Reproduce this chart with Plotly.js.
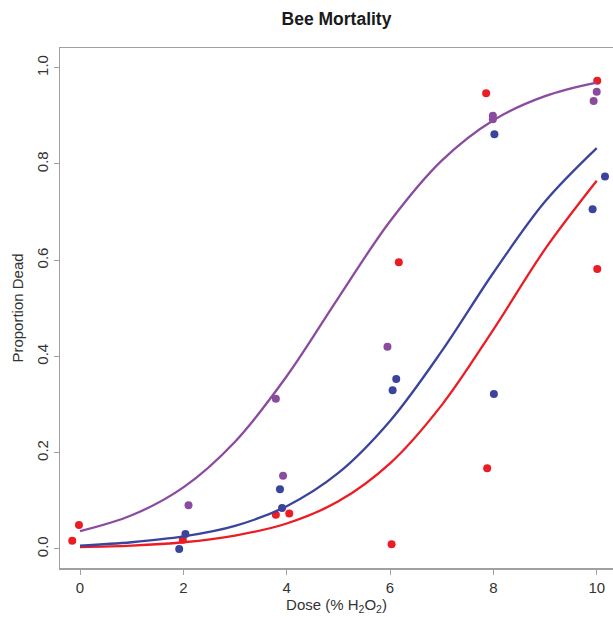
<!DOCTYPE html>
<html>
<head>
<meta charset="utf-8">
<script src="https://cdn.plot.ly/plotly-3.0.1.min.js"></script>
<style>html,body{margin:0;padding:0;background:#fff;}#chart{width:613px;height:617px;}</style>
</head>
<body>
<div id="chart"></div>
<script>
// Observed points (jittered dose, proportion dead)
const redDose  = [-0.15, -0.02, 1.99, 3.79, 4.05, 6.03, 6.17, 7.88, 7.86, 10.01, 10.01];
const redProp  = [0.017, 0.050, 0.019, 0.071, 0.074, 0.010, 0.596, 0.168, 0.947, 0.973, 0.582];
const blueDose = [1.92, 2.04, 3.87, 3.91, 6.12, 6.05, 8.01, 8.02, 10.16, 9.92];
const blueProp = [0.000, 0.031, 0.124, 0.085, 0.353, 0.330, 0.322, 0.862, 0.774, 0.706];
const purpDose = [2.10, 3.93, 3.79, 5.95, 7.99, 7.99, 10.00, 9.94];
const purpProp = [0.091, 0.152, 0.312, 0.420, 0.900, 0.893, 0.950, 0.931];

// Fitted curves at each dose
const curveDose = [0, 1, 2, 3, 4, 5, 6, 7, 8, 9, 10];
const redCurve  = [0.004, 0.007, 0.014, 0.028, 0.053, 0.099, 0.178, 0.299, 0.456, 0.623, 0.765];
const blueCurve = [0.007, 0.014, 0.026, 0.048, 0.089, 0.158, 0.266, 0.411, 0.574, 0.722, 0.833];
const purpCurve = [0.037, 0.070, 0.128, 0.223, 0.359, 0.522, 0.681, 0.807, 0.891, 0.941, 0.969];

const xTicks = [0, 2, 4, 6, 8, 10];
const yTicks = [0.0, 0.2, 0.4, 0.6, 0.8, 1.0];
const yTickText = ["0.0", "0.2", "0.4", "0.6", "0.8", "1.0"];

const RED = '#ec1c24', BLUE = '#3a449c', PURP = '#8a4c9e';

function pts(x, y, c) {
  return {x: x, y: y, type: 'scatter', mode: 'markers', hoverinfo: 'skip',
          marker: {color: c, size: 8, line: {width: 0}}};
}
function crv(y, c) {
  return {x: curveDose, y: y, type: 'scatter', mode: 'lines', hoverinfo: 'skip',
          line: {color: c, width: 2.3, shape: 'spline', smoothing: 1}};
}

const data = [
  pts(redDose, redProp, RED), pts(blueDose, blueProp, BLUE), pts(purpDose, purpProp, PURP),
  crv(redCurve, RED), crv(blueCurve, BLUE), crv(purpCurve, PURP)
];

const tickFont = {family: 'Liberation Sans, Arial, sans-serif', size: 15, color: '#333'};
const layout = {
  width: 613, height: 617,
  margin: {l: 60, r: 0, t: 48, b: 49, pad: 0},
  paper_bgcolor: '#fff', plot_bgcolor: '#fff',
  showlegend: false,
  title: {text: '<b>Bee Mortality</b>', x: 0.5, xanchor: 'center', y: 0.969, yanchor: 'middle',
          yref: 'container', xref: 'paper',
          font: {family: 'Liberation Sans, Arial, sans-serif', size: 17.5, color: '#1a1a1a'}},
  xaxis: {
    range: [-0.387, 10.315], tickvals: xTicks, ticktext: xTicks.map(String),
    showgrid: false, zeroline: false, showline: true, mirror: true,
    linecolor: '#a0a0a0', linewidth: 1.5, ticks: 'outside', ticklen: 5, tickcolor: '#a0a0a0', tickwidth: 1,
    tickfont: tickFont,
    title: {text: 'Dose (% H<sub>2</sub>O<sub>2</sub>)', standoff: 4,
            font: {family: 'Liberation Sans, Arial, sans-serif', size: 15, color: '#333'}}
  },
  yaxis: {
    range: [-0.0395, 1.041], tickvals: yTicks, ticktext: yTickText, tickangle: -90,
    showgrid: false, zeroline: false, showline: true, mirror: false,
    linecolor: '#a0a0a0', linewidth: 1.5, ticks: 'outside', ticklen: 5, tickcolor: '#a0a0a0', tickwidth: 1,
    tickfont: tickFont,
    title: {text: 'Proportion Dead', standoff: 6,
            font: {family: 'Liberation Sans, Arial, sans-serif', size: 15, color: '#333'}}
  }
};

Plotly.newPlot('chart', data, layout, {staticPlot: true, displayModeBar: false});
</script>
</body>
</html>
